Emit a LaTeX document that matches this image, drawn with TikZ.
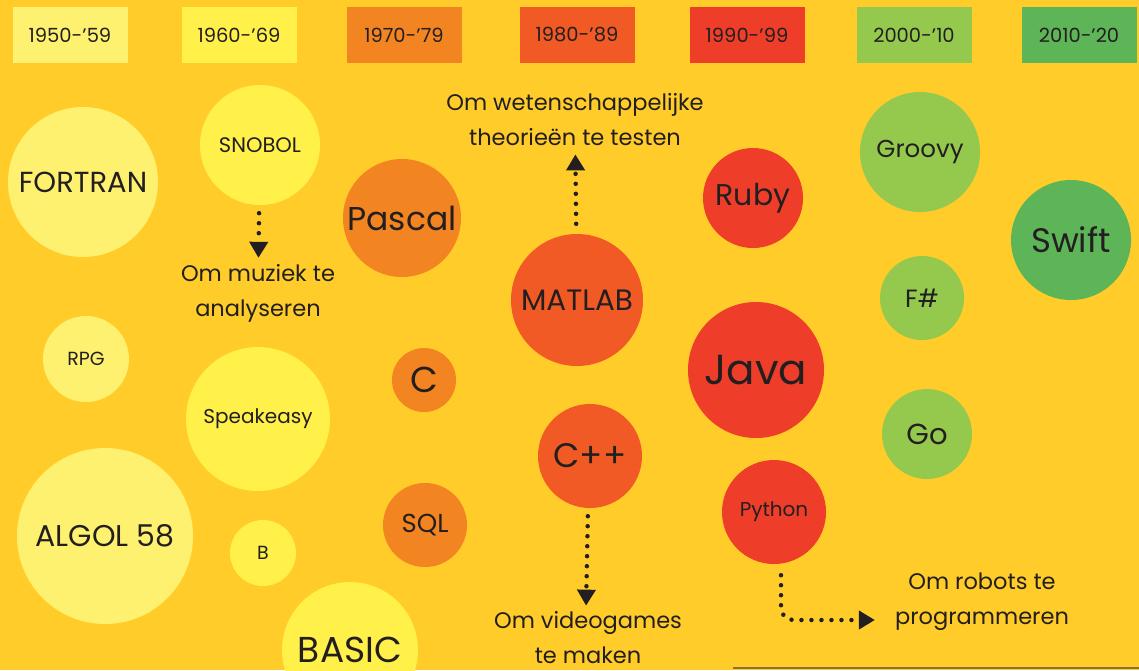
\documentclass[tikz,border=0pt]{standalone}
\usepackage{fontspec}
\setmainfont{Poppins}
\usetikzlibrary{arrows.meta}
\definecolor{bg}{HTML}{FFCC29}
\definecolor{ink}{HTML}{231F20}
\definecolor{c50}{HTML}{FFF170}
\definecolor{c60}{HTML}{FFF04A}
\definecolor{c70}{HTML}{F28521}
\definecolor{c80}{HTML}{F15A24}
\definecolor{c90}{HTML}{EE3E2A}
\definecolor{c00}{HTML}{95C94E}
\definecolor{c10}{HTML}{5DB558}
\tikzset{
	period/.style={fill=#1,text=ink,minimum width=115,minimum height=56,inner sep=0,font=\fontsize{19.5}{22}\selectfont},
	lang/.style={circle,fill=#1,text=ink,inner sep=0},
	note/.style={align=center,text=ink,inner sep=2,font=\fontsize{22.5}{35}\selectfont},
	dotarrow/.style={ink,line width=4.5,line cap=round,dash pattern=on 0pt off 10pt,-{Triangle[width=18pt,length=16pt]}}
}
\begin{document}
\begin{tikzpicture}[x=1pt,y=-1pt]
	%background
	\fill[bg] (0,0) rectangle (1139,670);
	\useasboundingbox (0,0) rectangle (1139,670);
	\clip (0,0) rectangle (1139,670);
	\draw[line width=2,color={rgb,255:red,140;green,109;blue,63}] (733,668)--(1139,668);	%bottom rule
	
	%periods
	\node[period=c50] (p50) at (70,35)   {1950-’59};
	\node[period=c60] (p60) at (239,35)  {1960-’69};
	\node[period=c70] (p70) at (404,35)  {1970-’79};
	\node[period=c80] (p80) at (577,35)  {1980-’89};
	\node[period=c90] (p90) at (747,35)  {1990-’99};
	\node[period=c00] (p00) at (914,35)  {2000-’10};
	\node[period=c10] (p10) at (1079,35) {2010-’20};
	
	%languages
	\node[lang=c50,minimum size=150,font=\fontsize{29}{32}\selectfont] (fortran) at (83,182)  {FORTRAN};
	\node[lang=c50,minimum size=86,font=\fontsize{19}{22}\selectfont]  (rpg)     at (86,359)  {RPG};
	\node[lang=c50,minimum size=176,font=\fontsize{30}{32}\selectfont] (algol)   at (105,536) {ALGOL 58};
	%
	\node[lang=c60,minimum size=120,font=\fontsize{21}{24}\selectfont] (snobol)  at (260,145) {SNOBOL};
	\node[lang=c60,minimum size=144,font=\fontsize{20}{22}\selectfont] (speak)   at (258,419) {Speakeasy};
	\node[lang=c60,minimum size=66,font=\fontsize{19}{22}\selectfont]  (b)       at (263,553) {B};
	\node[lang=c60,minimum size=136,font=\fontsize{36}{40}\selectfont] (basic)   at (350,650) {BASIC};
	%
	\node[lang=c70,minimum size=118,font=\fontsize{33}{36}\selectfont] (pascal)  at (402,218) {Pascal};
	\node[lang=c70,minimum size=64,font=\fontsize{36}{40}\selectfont]  (c)       at (424,380) {C};
	\node[lang=c70,minimum size=84,font=\fontsize{26}{30}\selectfont]  (sql)     at (425,525) {SQL};
	%
	\node[lang=c80,minimum size=132,font=\fontsize{29.5}{32}\selectfont] (matlab) at (577,300) {MATLAB};
	\node[lang=c80,minimum size=104,font=\fontsize{34}{38}\selectfont] (cpp)     at (590,456) {C++};
	%
	\node[lang=c90,minimum size=100,font=\fontsize{30}{34}\selectfont] (ruby)    at (753,198) {Ruby};
	\node[lang=c90,minimum size=136,font=\fontsize{42}{46}\selectfont] (java)    at (756,370) {Java};
	\node[lang=c90,minimum size=104,font=\fontsize{20}{22}\selectfont] (python)  at (774,512) {Python};
	%
	\node[lang=c00,minimum size=120,font=\fontsize{24.5}{27}\selectfont] (groovy) at (920,152) {Groovy};
	\node[lang=c00,minimum size=84,font=\fontsize{25}{28}\selectfont]  (fsharp)  at (922,298) {F\#};
	\node[lang=c00,minimum size=90,font=\fontsize{29}{32}\selectfont]  (go)      at (927,434) {Go};
	%
	\node[lang=c10,minimum size=120,font=\fontsize{34}{38}\selectfont] (swift)   at (1071,240) {Swift};
	
	%notes
	\node[note] (science) at (575,120) {Om wetenschappelijke\\theorieën te testen};
	\node[note] (music)   at (258,293) {Om muziek te\\analyseren};
	\node[note] (games)   at (588,638) {Om videogames\\te maken};
	\node[note] (robots)  at (982,602) {Om robots te\\programmeren};
	
	%arrows
	\draw[dotarrow,shorten <=8,shorten >=4] (snobol) -- (music);
	\draw[dotarrow,shorten <=10,shorten >=6] (matlab) -- (science);
	\draw[dotarrow,shorten <=8,shorten >=4] ([xshift=-2]cpp.south) -- ([xshift=-2]games.north);
	\draw[dotarrow,rounded corners=12] ([xshift=7,yshift=-11]python.south) |- ([xshift=-18,yshift=-18]robots.west);
\end{tikzpicture}
\end{document}
